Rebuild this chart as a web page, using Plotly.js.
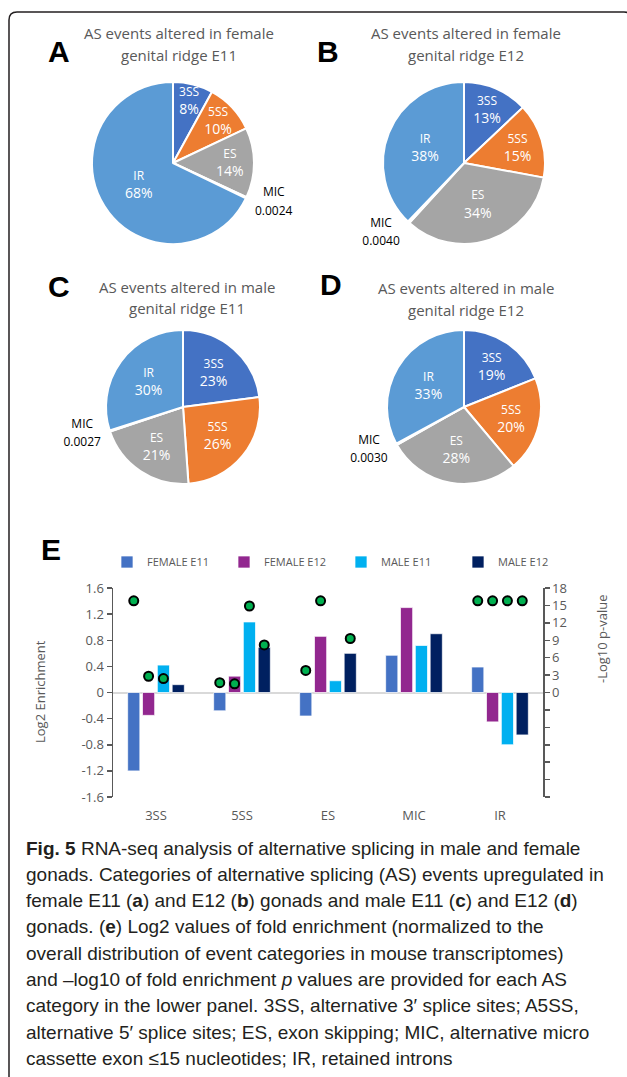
<!DOCTYPE html>
<html><head><meta charset="utf-8">
<script src="https://cdn.plot.ly/plotly-3.0.1.min.js"></script>
<style>html,body{margin:0;padding:0;background:#fff;} #chart{width:627px;height:1077px;}</style>
</head><body><div id="chart"></div>
<script>
const W = 627, H = 1077;

// ---- pie data (A-D) ----
const sliceLabels = ['3SS', '5SS', 'ES', 'MIC', 'IR'];
const pieA = [8, 10, 14, 0.24, 68];
const pieB = [13, 15, 34, 0.40, 38];
const pieC = [23, 26, 21, 0.27, 30];
const pieD = [19, 20, 28, 0.30, 33];
const pieTitles = [
  ['AS events altered in female', 'genital ridge E11'],
  ['AS events altered in female', 'genital ridge E12'],
  ['AS events altered in male', 'genital ridge E11'],
  ['AS events altered in male', 'genital ridge E12']
];
const panelLetters = ['A', 'B', 'C', 'D', 'E'];

// ---- bar data (E) ----
const categories = ['3SS', '5SS', 'ES', 'MIC', 'IR'];
const seriesNames = ['FEMALE E11', 'FEMALE E12', 'MALE E11', 'MALE E12'];
const femaleE11 = [-1.2, -0.28, -0.36, 0.57, 0.39];
const femaleE12 = [-0.35, 0.25, 0.86, 1.30, -0.45];
const maleE11 = [0.42, 1.08, 0.18, 0.72, -0.80];
const maleE12 = [0.12, 0.69, 0.60, 0.90, -0.65];
// -log10 p-values (dots, right axis)
const pFemaleE11 = [15.8, 1.7, 3.8, null, 15.8];
const pFemaleE12 = [2.8, 1.5, 15.8, null, 15.8];
const pMaleE11 = [2.4, 14.9, null, null, 15.8];
const pMaleE12 = [null, 8.2, 9.3, null, 15.8];
const leftTicks = [1.6, 1.2, 0.8, 0.4, 0, -0.4, -0.8, -1.2, -1.6];
const rightTickVals = [18, 15, 12, 9, 6, 3, 0, -3, -6, -9, -12, -15, -18];
const rightTickText = ['18', '15', '12', '9', '6', '3', '0', '', '', '', '', '', ''];

const captionLines = [
  '<b>Fig. 5</b> RNA-seq analysis of alternative splicing in male and female',
  'gonads. Categories of alternative splicing (AS) events upregulated in',
  'female E11 (<b>a</b>) and E12 (<b>b</b>) gonads and male E11 (<b>c</b>) and E12 (<b>d</b>)',
  'gonads. (<b>e</b>) Log2 values of fold enrichment (normalized to the',
  'overall distribution of event categories in mouse transcriptomes)',
  'and \u2013log10 of fold enrichment <i>p</i> values are provided for each AS',
  'category in the lower panel. 3SS, alternative 3\u2032 splice sites; A5SS,',
  'alternative 5\u2032 splice sites; ES, exon skipping; MIC, alternative micro',
  'cassette exon \u226415 nucleotides; IR, retained introns'
];

// ---- helpers ----
const px = x => x / W;
const py = y => 1 - y / H;
const sliceColors = ['#4472C4', '#ED7D31', '#A5A5A5', '#FFC000', '#5B9BD5'];
const seriesColors = ['#4472C4', '#92278F', '#00B0F0', '#002060'];
const GRAY = '#595959';
const FONT = 'Open Sans, Noto Sans, sans-serif';
const sm = s => '<span style="font-size:12px">' + s + '</span>';

function pieTrace(values, cx, cy, r) {
  return {
    type: 'pie', values: values, labels: sliceLabels, sort: false,
    direction: 'clockwise', rotation: 0,
    text: values.map((v, i) => sliceLabels[i] === 'MIC'
      ? sm('MIC') + '<br>' + sm((v / 100).toFixed(4))
      : sm(sliceLabels[i]) + '<br>' + v + '%'),
    textinfo: 'text', hoverinfo: 'label+value',
    textposition: sliceLabels.map(l => l === 'MIC' ? 'outside' : 'inside'),
    insidetextorientation: 'horizontal',
    insidetextfont: {color: '#ffffff', size: 14, family: FONT},
    outsidetextfont: {color: '#000000', size: 12, family: FONT},
    marker: {colors: sliceColors, line: {color: '#ffffff', width: 2}},
    showlegend: false,
    domain: {x: [px(cx - r), px(cx + r)], y: [py(cy + r), py(cy - r)]}
  };
}

const data = [
  pieTrace(pieA, 173, 163, 81),
  pieTrace(pieB, 464, 163, 81),
  pieTrace(pieC, 183, 407, 77),
  pieTrace(pieD, 464, 407, 77)
];

const barSeries = [femaleE11, femaleE12, maleE11, maleE12];
const pSeries = [pFemaleE11, pFemaleE12, pMaleE11, pMaleE12];
barSeries.forEach((vals, i) => {
  data.push({
    type: 'bar', x: categories, y: vals, name: seriesNames[i],
    xaxis: 'x', yaxis: 'y', offsetgroup: 'g' + i, alignmentgroup: 'a',
    marker: {color: seriesColors[i], line: {color: 'rgba(255,255,255,0.7)', width: 1}},
    hoverinfo: 'x+y+name'
  });
});
pSeries.forEach((vals, i) => {
  data.push({
    type: 'scatter', mode: 'markers', x: categories, y: vals, name: seriesNames[i] + ' p',
    xaxis: 'x', yaxis: 'y2', offsetgroup: 'g' + i, alignmentgroup: 'a',
    marker: {color: '#00B050', size: 9, line: {color: '#000000', width: 2}},
    showlegend: false, cliponaxis: false
  });
});

const annotations = [];
// pie titles
const titlePos = [[179, 33, 55], [466, 33, 55], [187, 287, 308], [466, 288, 310]];
pieTitles.forEach((t, i) => {
  t.forEach((line, j) => {
    annotations.push({
      text: line, xref: 'paper', yref: 'paper', x: px(titlePos[i][0]), y: py(titlePos[i][1 + j]),
      xanchor: 'center', yanchor: 'middle', showarrow: false,
      font: {family: FONT, size: 15, color: GRAY}
    });
  });
});
// panel letters
const letterPos = [[59, 52], [328, 52], [59, 286], [331, 284], [51, 549]];
panelLetters.forEach((L, i) => {
  annotations.push({
    text: '<b>' + L + '</b>', xref: 'paper', yref: 'paper', x: px(letterPos[i][0]), y: py(letterPos[i][1]),
    xanchor: 'center', yanchor: 'middle', showarrow: false,
    font: {family: 'Liberation Sans, Arial, sans-serif', size: 30, color: '#000'}
  });
});
// axis titles
annotations.push({
  text: 'Log2 Enrichment', xref: 'paper', yref: 'paper', x: px(40), y: py(692), textangle: -90,
  xanchor: 'center', yanchor: 'middle', showarrow: false, font: {family: FONT, size: 13, color: GRAY}
});
annotations.push({
  text: '-Log10 p-value', xref: 'paper', yref: 'paper', x: px(602), y: py(639), textangle: -90,
  xanchor: 'center', yanchor: 'middle', showarrow: false, font: {family: FONT, size: 13, color: GRAY}
});
// caption
captionLines.forEach((line, i) => {
  annotations.push({
    text: line, xref: 'paper', yref: 'paper', x: px(24), y: py(848 + i * 26.3),
    xanchor: 'left', yanchor: 'middle', align: 'left', showarrow: false,
    font: {family: 'Liberation Sans, Arial, sans-serif', size: 19, color: '#231F20'}
  });
});

// rounded border
const r = 8, bx0 = 9, by0 = 12, bx1 = 632, by1 = 1100;
const P = (x, y) => px(x).toFixed(5) + ',' + py(y).toFixed(5);
const borderPath = 'M' + P(bx0, by1) + ' L' + P(bx0, by0 + r) + ' Q' + P(bx0, by0) + ' ' + P(bx0 + r, by0) +
  ' L' + P(bx1 - r, by0) + ' Q' + P(bx1, by0) + ' ' + P(bx1, by0 + r) + ' L' + P(bx1, by1);

const layout = {
  width: W, height: H,
  margin: {l: 0, r: 0, t: 0, b: 0},
  paper_bgcolor: '#ffffff', plot_bgcolor: '#ffffff',
  font: {family: FONT, color: GRAY},
  barmode: 'group', bargap: 0.31, bargroupgap: 0.18,
  scattermode: 'group', scattergap: 0.31,
  uniformtext: {mode: 'show', minsize: 14},
  showlegend: true,
  legend: {
    orientation: 'h', x: px(107), xanchor: 'left', y: py(562), yanchor: 'middle',
    font: {family: FONT, size: 11, color: GRAY}, entrywidth: 72, entrywidthmode: 'pixels',
    bgcolor: 'rgba(0,0,0,0)', itemclick: false, itemdoubleclick: false
  },
  xaxis: {
    domain: [px(113), px(543)], anchor: 'y', type: 'category',
    showline: false, ticks: '', showgrid: false, zeroline: false,
    tickfont: {family: FONT, size: 13, color: GRAY}, ticklabelstandoff: 9
  },
  yaxis: {
    domain: [py(797), py(588)], range: [-1.6, 1.6], anchor: 'x',
    tickvals: leftTicks, ticktext: leftTicks.map(String),
    showline: true, linecolor: GRAY, linewidth: 1.5,
    ticks: 'outside', ticklen: 5, tickcolor: GRAY, tickwidth: 1.5,
    showgrid: false, zeroline: true, zerolinecolor: '#D9D9D9', zerolinewidth: 2,
    tickfont: {family: FONT, size: 13, color: GRAY}
  },
  yaxis2: {
    overlaying: 'y', side: 'right', anchor: 'x', range: [-18, 18],
    tickvals: rightTickVals, ticktext: rightTickText,
    showline: true, linecolor: GRAY, linewidth: 1.5,
    ticks: 'outside', ticklen: 5, tickcolor: GRAY, tickwidth: 1.5,
    showgrid: false, zeroline: false,
    tickfont: {family: FONT, size: 13, color: GRAY}
  },
  annotations: annotations,
  shapes: [{type: 'path', xref: 'paper', yref: 'paper', path: borderPath, line: {color: '#231F20', width: 1.5}}]
};

Plotly.newPlot('chart', data, layout, {displayModeBar: false, staticPlot: true});
</script>
</body></html>
